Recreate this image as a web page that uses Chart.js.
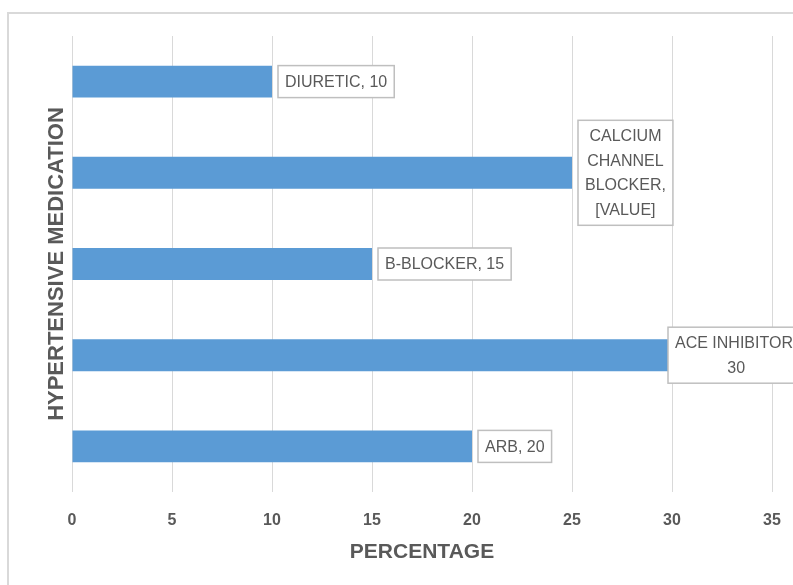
<!DOCTYPE html>
<html>
<head>
<meta charset="utf-8">
<script src="https://cdn.jsdelivr.net/npm/chart.js@4.4.1/dist/chart.umd.min.js"></script>
<style>
  body { margin: 0; background: #fff; overflow: hidden; }
  #wrap { width: 793px; height: 585px; }
</style>
</head>
<body>
<div id="wrap"><canvas id="myChart" width="793" height="585"></canvas></div>
<script>
// data
const medications = ['DIURETIC', 'CALCIUM CHANNEL BLOCKER', 'B-BLOCKER', 'ACE INHIBITOR', 'ARB'];
const percentages = [10, 25, 15, 30, 20];
const dataLabels = [
    ['DIURETIC, 10'],
    ['CALCIUM', 'CHANNEL', 'BLOCKER,', '[VALUE]'],
    ['B-BLOCKER, 15'],
    ['ACE INHIBITOR,', '30'],
    ['ARB, 20']
];
const xTicks = [0, 5, 10, 15, 20, 25, 30, 35];

const greyText = '#595959';
const fontFam = '"Liberation Sans", Arial, sans-serif';
const labelFont = '16px ' + fontFam;

// outer frame of the chart
const framePlugin = {
    id: 'frame',
    beforeDraw(chart) {
        const ctx = chart.ctx;
        ctx.save();
        ctx.strokeStyle = '#d9d9d9';
        ctx.lineWidth = 2;
        ctx.beginPath();
        ctx.moveTo(8, chart.height);
        ctx.lineTo(8, 13);
        ctx.lineTo(chart.width + 5, 13);
        ctx.stroke();
        ctx.restore();
    }
};

// boxed data labels like the excel callouts
const boxLabels = {
    id: 'boxLabels',
    afterDatasetsDraw(chart) {
        const ctx = chart.ctx;
        const meta = chart.getDatasetMeta(0);
        ctx.save();
        ctx.font = labelFont;
        ctx.textAlign = 'center';
        ctx.textBaseline = 'middle';
        meta.data.forEach((bar, i) => {
            const lines = dataLabels[i];
            let w = 0;
            lines.forEach(l => { w = Math.max(w, ctx.measureText(l).width); });
            w += 14;
            const lineH = 24.5;
            const h = lines.length == 1 ? 32 : lines.length * lineH + 7;
            let x = bar.x + 6;
            if (x + w > chart.width) x = bar.x - 4;
            const y = bar.y - h / 2;
            ctx.fillStyle = '#ffffff';
            ctx.fillRect(x, y, w, h);
            ctx.strokeStyle = '#bfbfbf';
            ctx.lineWidth = 1.5;
            ctx.strokeRect(x, y, w, h);
            ctx.fillStyle = greyText;
            lines.forEach((l, k) => {
                ctx.fillText(l, x + w / 2, bar.y + (k - (lines.length - 1) / 2) * lineH + 1);
            });
        });
        ctx.restore();
    }
};

const ctx = document.getElementById('myChart').getContext('2d');
const chart = new Chart(ctx, {
    type: 'bar',
    data: {
        labels: medications,
        datasets: [{
            data: percentages,
            backgroundColor: '#5b9bd5',
            barPercentage: 0.35,
            categoryPercentage: 1
        }]
    },
    options: {
        indexAxis: 'y',
        responsive: false,
        animation: false,
        layout: { padding: { top: 36, right: 21, bottom: 0, left: 0 } },
        plugins: { legend: { display: false }, tooltip: { enabled: false } },
        scales: {
            x: {
                min: 0,
                max: 35,
                afterBuildTicks: (scale) => { scale.ticks = xTicks.map(v => ({ value: v })); },
                grid: { color: '#d9d9d9', drawTicks: false },
                border: { display: false },
                ticks: {
                    color: greyText,
                    padding: 19,
                    font: { family: fontFam, size: 16, weight: 'bold' }
                },
                title: {
                    display: true,
                    text: 'PERCENTAGE',
                    color: greyText,
                    padding: { top: 0, bottom: 20 },
                    font: { family: fontFam, size: 21, weight: 'bold' }
                },
                afterFit: (scale) => {
                    scale.height = 93;
                    scale.paddingLeft = 0;
                    scale.paddingRight = 0;
                }
            },
            y: {
                grid: { display: false },
                border: { display: false },
                ticks: { display: false },
                title: {
                    display: true,
                    text: 'HYPERTENSIVE MEDICATION',
                    color: greyText,
                    padding: { top: 44, bottom: 0 },
                    font: { family: fontFam, size: 22, weight: 'bold' }
                },
                afterFit: (scale) => { scale.width = 72; }
            }
        }
    },
    plugins: [framePlugin, boxLabels]
});
</script>
</body>
</html>
